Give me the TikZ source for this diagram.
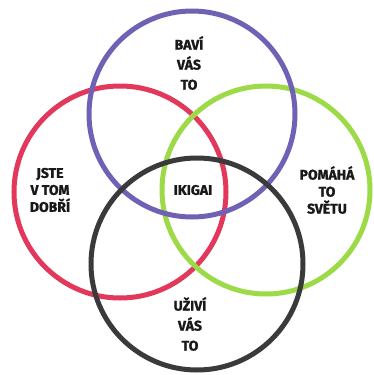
\documentclass[tikz,border=0pt]{standalone}
\usepackage{fontspec}
\setmainfont{Fira Sans}[BoldFeatures={FakeBold=1.2}]
\definecolor{cpurple}{HTML}{6E62B4}
\definecolor{cred}{HTML}{E2385C}
\definecolor{cgreen}{HTML}{9CDA48}
\definecolor{cblack}{HTML}{3A3A3C}
\begin{document}
\begin{tikzpicture}[x=1pt,y=-1pt,
  ring/.style={line width=5pt},
  lbl/.style={font=\fontsize{14}{20}\selectfont\bfseries, align=center, text=black!90}]
\useasboundingbox (0,0) rectangle (373,375);
\fill[white] (0,0) rectangle (373,375);
\draw[ring,cred] (120,192) circle[radius=106];
\draw[ring,cgreen] (266,190) circle[radius=104];
\draw[ring,cpurple] (192,114) circle[radius=103];
\draw[ring,cblack] (197,264) circle[radius=106];
\node[lbl] (bavi) at (189,63) {BAVÍ\\VÁS\\TO};
\node[lbl,font=\fontsize{14}{17}\selectfont\bfseries] (jste) at (50,190) {JSTE\\V TOM\\DOBŘÍ};
\node[lbl,font=\fontsize{14}{17}\selectfont\bfseries] (pomaha) at (327,190) {POMÁHÁ\\TO\\SVĚTU};
\node[lbl] (uzivi) at (190,324) {UŽIVÍ\\VÁS\\TO};
\node[lbl] (ikigai) at (193,190) {IKIGAI};
\end{tikzpicture}
\end{document}
